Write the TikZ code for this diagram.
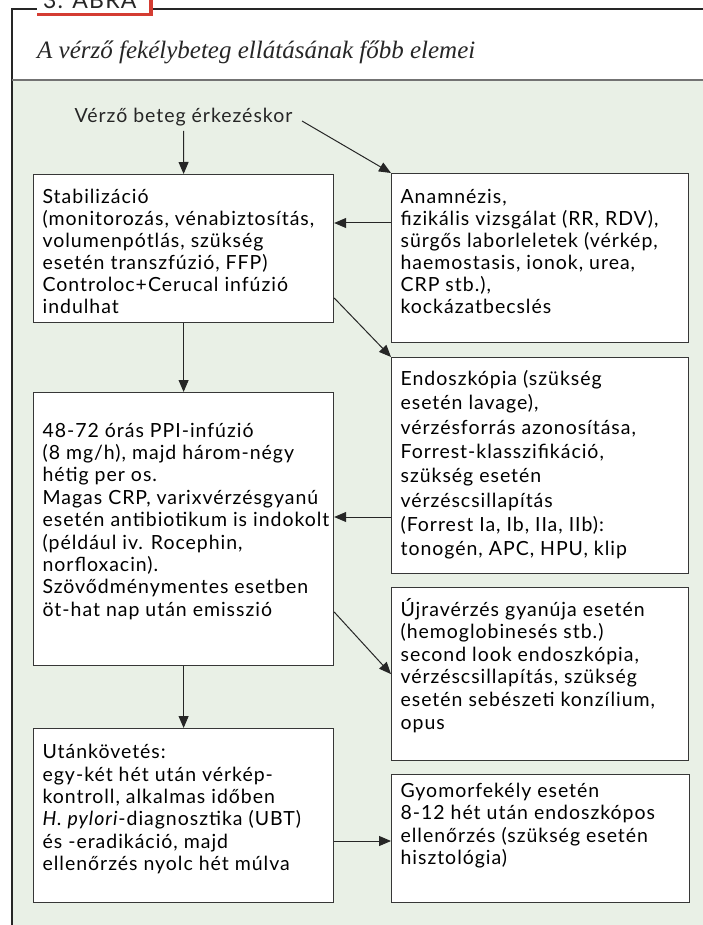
\documentclass[tikz,border=0pt]{standalone}
\usepackage{fontspec}
\setmainfont[LetterSpace=5]{Lato}
\newfontfamily\titlefont{Liberation Serif}
\usetikzlibrary{arrows.meta}
\definecolor{bgreen}{RGB}{233,240,230}
\definecolor{ared}{RGB}{212,60,50}
\definecolor{lineg}{RGB}{55,55,55}
\newcommand{\bxt}[5]{\vbox to #2{\hsize=#1\relax\fontsize{19.5pt}{#4}\selectfont\parindent=0pt\leftskip=9pt\rightskip=0pt plus 1fil\relax\baselineskip=#4\relax\lineskiplimit=-100pt\relax\vskip\dimexpr#3-#4\relax\hbox{}#5\par\vfil}}
\begin{document}
\begin{tikzpicture}[x=1pt,y=-1pt,
  bx/.style={draw=lineg, line width=1.2pt, fill=white, inner sep=0pt, anchor=north west},
  arr/.style={draw=black!85, line width=1pt, -{Triangle[length=12pt,width=10pt]}},
  frame/.style={draw=black!85, line width=1.3pt}]
\useasboundingbox (0,0) rectangle (703,925);
% background and frame
\fill[bgreen] (12,80) rectangle (703,925);
\draw[frame] (12,925) -- (12,9) -- (37,9);
\draw[frame] (153,9) -- (703,9);
\draw[draw=black!55, line width=2pt] (12,80.5) -- (703,80.5);
% header tab
\fill[white] (37,-5) rectangle (150,13);
\draw[ared, line width=3pt] (37,14.5) -- (152.5,14.5);
\draw[ared, line width=4pt] (151,-5) -- (151,16);
\node[anchor=base west, inner sep=0pt, font=\fontsize{23pt}{27pt}\selectfont, text=black!85] (tab) at (43,8.3) {3. ÁBRA};
% title
\node[anchor=base west, inner sep=0pt, font=\titlefont\itshape\fontsize{25pt}{30pt}\selectfont, text=black!85] (title) at (37,58.3) {A vérző fekélybeteg ellátásának főbb elemei};
% start text
\node[anchor=base, inner xsep=4pt, inner ysep=4.5pt, font=\fontsize{19.5pt}{22pt}\selectfont, text=black!85] (start) at (183.5,122.7) {Vérző beteg érkezéskor};
\coordinate (d0) at (302,121);
% boxes
\node[bx] (stab) at (33,174) {\bxt{300pt}{148pt}{28.5pt}{22.1pt}{Stabilizáció\\(monitorozás, vénabiztosítás,\\volumenpótlás, szükség\\esetén transzfúzió, FFP)\\Controloc+Cerucal infúzió\\indulhat}};
\node[bx] (anam) at (391,173) {\bxt{297pt}{169pt}{29.5pt}{22pt}{Anamnézis,\\fizikális vizsgálat (RR, RDV),\\sürgős laborleletek (vérkép,\\haemostasis, ionok, urea,\\CRP stb.),\\kockázatbecslés}};
\node[bx] (endo) at (391,357) {\bxt{297pt}{216pt}{28pt}{24.3pt}{Endoszkópia (szükség\\esetén lavage),\\vérzésforrás azonosítása,\\Forrest-klasszifikáció,\\szükség esetén\\vérzéscsillapítás\\(Forrest Ia, Ib, IIa, IIb):\\tonogén, APC, HPU, klip}};
\node[bx] (ppi) at (33,392) {\bxt{300pt}{273pt}{44.5pt}{22.4pt}{48-72 órás PPI-infúzió\\(8 mg/h), majd három-négy\\hétig per os.\\Magas CRP, varixvérzésgyanú\\esetén antibiotikum is indokolt\\(például iv. Rocephin,\\norfloxacin).\\Szövődménymentes esetben\\öt-hat nap után emisszió}};
\node[bx] (ujra) at (391,587) {\bxt{297pt}{173pt}{28.5pt}{22.6pt}{Újravérzés gyanúja esetén\\(hemoglobinesés stb.)\\second look endoszkópia,\\vérzéscsillapítás, szükség\\esetén sebészeti konzílium,\\opus}};
\node[bx] (utank) at (33,728) {\bxt{300pt}{174pt}{30pt}{22.4pt}{Utánkövetés:\\egy-két hét után vérkép-\\kontroll, alkalmas időben\\\textit{H. pylori}-diagnosztika (UBT)\\és -eradikáció, majd\\ellenőrzés nyolc hét múlva}};
\node[bx] (gyomor) at (391,774) {\bxt{298pt}{128pt}{23pt}{22.3pt}{Gyomorfekély esetén\\8-12 hét után endoszkópos\\ellenőrzés (szükség esetén\\hisztológia)}};
% connectors
\draw[arr] (start.south) -- (stab.north);
\draw[arr] (d0) -- (anam.north west);
\draw[arr] ([yshift=-50pt]anam.north west) coordinate (a1) -- (a1 -| stab.east);
\draw[arr] ([yshift=-124pt]stab.north east) -- (endo.north west);
\draw[arr] (stab.south) -- (ppi.north);
\draw[arr] ([yshift=-160pt]endo.north west) coordinate (a2) -- (a2 -| ppi.east);
\draw[arr] ([yshift=-220pt]ppi.north east) -- (ujra.west);
\draw[arr] (ppi.south) -- (utank.north);
\draw[arr] ([yshift=-113pt]utank.north east) coordinate (a3) -- (a3 -| gyomor.west);
\end{tikzpicture}
\end{document}
